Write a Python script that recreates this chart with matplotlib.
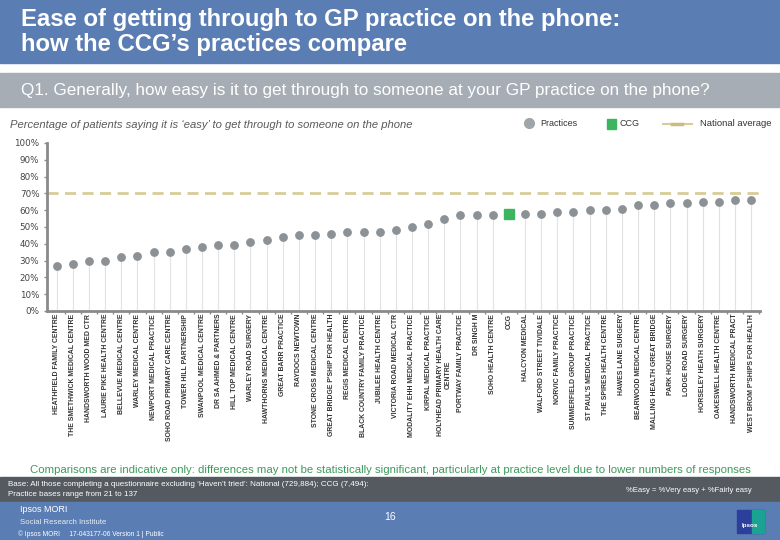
import matplotlib
matplotlib.use("Agg")
import matplotlib.pyplot as plt
from matplotlib.patches import Rectangle
from matplotlib.lines import Line2D
import numpy as np

plt.rcParams['font.family'] = ['Liberation Sans', 'DejaVu Sans']

practices = [
    "HEATHFIELD FAMILY CENTRE", "THE SMETHWICK MEDICAL CENTRE", "HANDSWORTH WOOD MED CTR",
    "LAURIE PIKE HEALTH CENTRE", "BELLEVUE MEDICAL CENTRE", "WARLEY MEDICAL CENTRE",
    "NEWPORT MEDICAL PRACTICE", "SOHO ROAD PRIMARY CARE CENTRE", "TOWER HILL PARTNERSHIP",
    "SWANPOOL MEDICAL CENTRE", "DR SA AHMED & PARTNERS", "HILL TOP MEDICAL CENTRE",
    "WARLEY ROAD SURGERY", "HAWTHORNS MEDICAL CENTRE", "GREAT BARR PRACTICE",
    "RAYDOCS NEWTOWN", "STONE CROSS MEDICAL CENTRE", "GREAT BRIDGE P'SHIP FOR HEALTH",
    "REGIS MEDICAL CENTRE", "BLACK COUNTRY FAMILY PRACTICE", "JUBILEE HEALTH CENTRE",
    "VICTORIA ROAD MEDICAL CTR", "MODALITY EHH MEDICAL PRACTICE", "KIRPAL MEDICAL PRACTICE",
    "HOLYHEAD PRIMARY HEALTH CARE\nCENTRE", "PORTWAY FAMILY PRACTICE", "DR SINGH M",
    "SOHO HEALTH CENTRE", "CCG", "HALCYON MEDICAL", "WALFORD STREET TIVIDALE",
    "NORVIC FAMILY PRACTICE", "SUMMERFIELD GROUP PRACTICE", "ST PAUL'S MEDICAL PRACTICE",
    "THE SPIRES HEALTH CENTRE", "HAWES LANE SURGERY", "BEARWOOD MEDICAL CENTRE",
    "MALLING HEALTH GREAT BRIDGE", "PARK HOUSE SURGERY", "LODGE ROAD SURGERY",
    "HORSELEY HEATH SURGERY", "OAKESWELL HEALTH CENTRE", "HANDSWORTH MEDICAL PRACT",
    "WEST BROM P'SHIPS FOR HEALTH",
]
values = [27, 28, 30, 30, 32, 33, 35, 35, 37, 38, 39, 39, 41, 42, 44, 45, 45, 46, 47, 47,
          47, 48, 50, 52, 55, 57, 57, 57, 58, 58, 58, 59, 59, 60, 60, 61, 63, 63, 64, 64,
          65, 65, 66, 66]
ccg_label = "CCG"
national_average = 70
y_ticks = [0, 10, 20, 30, 40, 50, 60, 70, 80, 90, 100]

W, H = 780, 540
fig = plt.figure(figsize=(7.8, 5.4), dpi=100)

def fy(py):
    return 1 - py / H

def fx(px):
    return px / W

# Header bands
fig.patches.append(Rectangle((0, fy(63)), 1, 63 / H, transform=fig.transFigure,
                             color='#5a7db4', zorder=0))
fig.patches.append(Rectangle((0, fy(107)), 1, 34 / H, transform=fig.transFigure,
                             color='#a7adb5', zorder=0))
fig.text(fx(21), fy(19.5), "Ease of getting through to GP practice on the phone:",
         color='white', fontsize=17.2, fontweight='bold', va='center', ha='left')
fig.text(fx(21), fy(45), "how the CCG\u2019s practices compare",
         color='white', fontsize=17.2, fontweight='bold', va='center', ha='left')
fig.text(fx(21), fy(91), "Q1. Generally, how easy is it to get through to someone at your GP practice on the phone?",
         color='white', fontsize=12.3, va='center', ha='left')

fig.text(fx(10), fy(125), "Percentage of patients saying it is \u2018easy\u2019 to get through to someone on the phone",
         color='#5a5a5a', fontsize=8.1, style='italic', va='center', ha='left')

# Legend (manual)
fig.lines.append(Line2D([fx(529)], [fy(123)], marker='o', markersize=7, color='#a0a5aa',
                        transform=fig.transFigure, linestyle='none'))
fig.text(fx(540), fy(124), "Practices", fontsize=6.5, color='#333333', va='center')
fig.patches.append(Rectangle((fx(607), fy(129)), 9 / W, 10 / H, transform=fig.transFigure,
                             color='#3cb55e'))
fig.text(fx(620), fy(124), "CCG", fontsize=6.5, color='#333333', va='center')
fig.lines.append(Line2D([fx(663), fx(692)], [fy(124), fy(124)], color='#d8cc98', lw=1.5,
                        transform=fig.transFigure))
fig.lines.append(Line2D([fx(672), fx(682)], [fy(124), fy(124)], color='#c9bd85', lw=2.5,
                        transform=fig.transFigure))
fig.text(fx(700), fy(124), "National average", fontsize=6.8, color='#333333', va='center')

# Axes
ax = fig.add_axes([fx(47), fy(311), (760 - 47) / W, (311 - 143) / H])
x = np.arange(len(practices))
vals = np.array(values, dtype=float)
is_ccg = np.array([p == ccg_label for p in practices])

ax.vlines(x[~is_ccg], 0, vals[~is_ccg], color='#e2e2e2', lw=0.8, zorder=1)
ax.plot(x[~is_ccg], vals[~is_ccg], 'o', color='#8c9196', markersize=5.3, zorder=3)
ax.plot(x[is_ccg], vals[is_ccg], 's', color='#3cb55e', markersize=7.5, zorder=3)
ax.axhline(national_average, color='#d8cc98', lw=2, dashes=(4, 2.3), zorder=2)

ax.set_xlim(-0.6, len(practices) - 0.45)
ax.set_ylim(0, 100)
ax.set_yticks(y_ticks)
ax.set_yticklabels([f"{v}%" for v in y_ticks], fontsize=6.3, color='#444444',
                   family=['DejaVu Sans'])
ax.set_xticks(x)
ax.set_xticklabels(practices, rotation=90, fontsize=4.95, color='#333333',
                   ha='center', va='top', multialignment='center', fontweight='bold')
ax.set_xticks(np.arange(len(practices)) + 0.5, minor=True)
ax.tick_params(axis='x', which='major', length=0, pad=2)
ax.tick_params(axis='x', which='minor', length=2.5, width=1, color='#8a8a8a', direction='out')
ax.tick_params(axis='y', length=2, width=1, color='#8a8a8a', pad=3.5)
for s in ['top', 'right']:
    ax.spines[s].set_visible(False)
for s in ['left', 'bottom']:
    ax.spines[s].set_color('#8a8a8a')
    ax.spines[s].set_linewidth(2)
ax.patch.set_alpha(0)

# Footer
fig.text(fx(390), fy(470), "Comparisons are indicative only: differences may not be statistically significant, particularly at practice level due to lower numbers of responses",
         color='#3d9a5a', fontsize=8.2, ha='center', va='center')
fig.patches.append(Rectangle((0, fy(502)), 1, 25 / H, transform=fig.transFigure,
                             color='#555a60', zorder=0))
fig.text(fx(8), fy(484), "Base: All those completing a questionnaire excluding \u2018Haven\u2019t tried\u2019: National (729,884); CCG (7,494):",
         color='white', fontsize=5.8, va='center')
fig.text(fx(8), fy(495), "Practice bases range from 21 to 137",
         color='white', fontsize=5.8, va='center')
fig.text(fx(752), fy(490), "%Easy = %Very easy + %Fairly easy",
         color='white', fontsize=5.5, va='center', ha='right')
fig.patches.append(Rectangle((0, 0), 1, 38 / H, transform=fig.transFigure,
                             color='#5a7db4', zorder=0))
fig.text(fx(20), fy(510), "Ipsos MORI", color='white', fontsize=6.5, va='center')
fig.text(fx(20), fy(522), "Social Research Institute", color='#e8edf5', fontsize=5.6, va='center')
fig.text(fx(18), fy(534), "\u00a9 Ipsos MORI     17-043177-06 Version 1 | Public",
         color='white', fontsize=4.8, va='center')
fig.text(fx(390), fy(517), "16", color='white', fontsize=7.5, va='center', ha='center')
fig.patches.append(Rectangle((fx(737), fy(533)), 27 / W, 23 / H, transform=fig.transFigure,
                             color='#2b3f9b', zorder=1))
fig.patches.append(Rectangle((fx(752), fy(533)), 12 / W, 23 / H, transform=fig.transFigure,
                             color='#1aa392', zorder=1))
fig.text(fx(750), fy(526), "Ipsos", color='white', fontsize=4.5, fontweight='bold',
         va='center', ha='center', zorder=2)

fig.savefig("out.png", dpi=100)
